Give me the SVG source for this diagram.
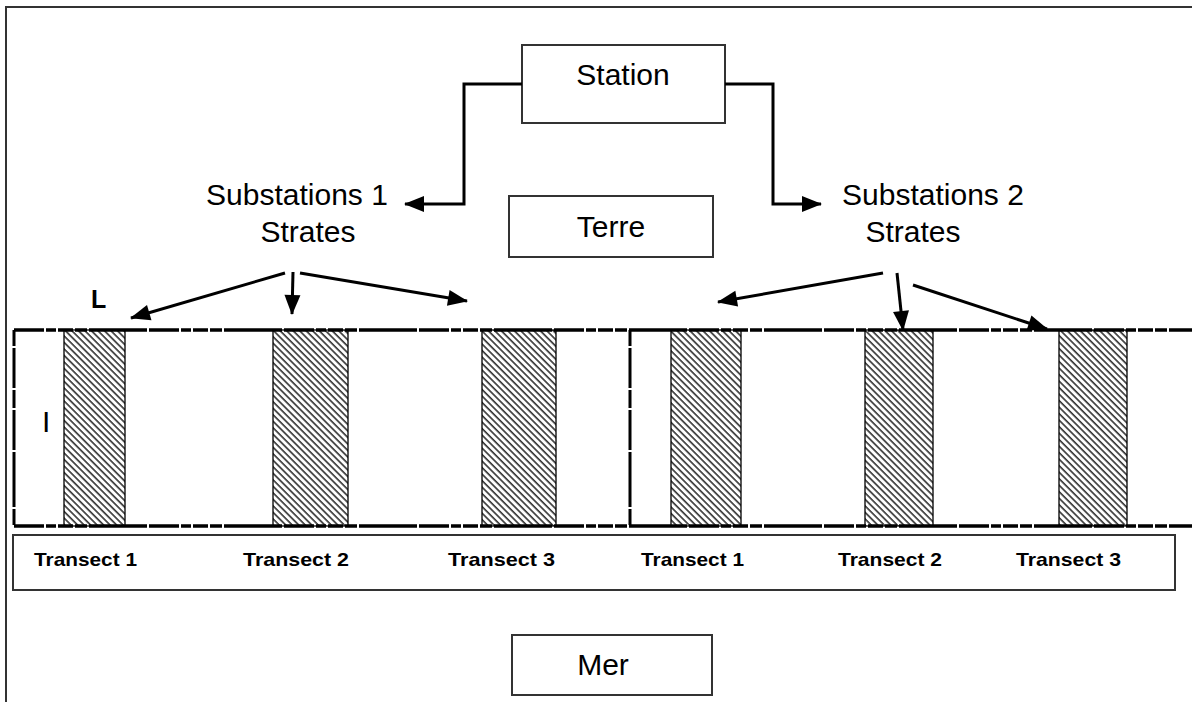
<svg xmlns="http://www.w3.org/2000/svg" width="1192" height="702" viewBox="0 0 1192 702">
<defs>
<pattern id="hatch" patternUnits="userSpaceOnUse" width="4.6" height="4.6" patternTransform="rotate(-45)">
<rect width="4.6" height="4.6" fill="#fff"/>
<line x1="1" y1="0" x2="1" y2="4.6" stroke="#000" stroke-width="1.3"/>
</pattern>
<marker id="ah" viewBox="0 0 20 16" markerUnits="userSpaceOnUse" markerWidth="20" markerHeight="16" refX="19" refY="8" orient="auto" overflow="visible">
<path d="M0,0 L20,8 L0,16 z" fill="#000"/>
</marker>
</defs>
<style>
.box{fill:#fff;stroke:#333;stroke-width:2}
.lbl{font-family:"Liberation Sans",Arial,sans-serif;font-size:30px;fill:#000;text-anchor:middle}
.tr{font-family:"Liberation Sans",Arial,sans-serif;font-size:19px;font-weight:bold;fill:#000}
.con{fill:none;stroke:#000;stroke-width:3}
.band{fill:none;stroke:#000;stroke-width:3.5;stroke-dasharray:30 2 10 2 15 2 12 2 58 2}
.bandv{fill:none;stroke:#000;stroke-width:3;stroke-dasharray:16 2 40 2 18 2 40 2 55 2}
.hat{fill:url(#hatch);stroke:#000;stroke-width:1.3}
</style>
<rect width="1192" height="702" fill="#fff"/>
<g id="frame">
<path d="M6,702 V7 H1192" fill="none" stroke="#333" stroke-width="2"/>
</g>
<g id="station">
<rect class="box" x="522" y="45" width="203" height="78"/>
<text class="lbl" x="623" y="85">Station</text>
</g>
<g id="terre">
<rect class="box" x="509" y="196" width="204" height="61"/>
<text class="lbl" x="611" y="237" font-size="28">Terre</text>
</g>
<g id="substations1">
<text class="lbl" x="297" y="205">Substations 1</text>
<text class="lbl" x="308" y="242">Strates</text>
</g>
<g id="substations2">
<text class="lbl" x="933" y="205">Substations 2</text>
<text class="lbl" x="913" y="242">Strates</text>
</g>
<g id="band">
<rect class="hat" x="64" y="330" width="61" height="196"/>
<rect class="hat" x="273" y="330" width="75" height="196"/>
<rect class="hat" x="482" y="330" width="74" height="196"/>
<rect class="hat" x="671" y="330" width="70" height="196"/>
<rect class="hat" x="865" y="330" width="68" height="196"/>
<rect class="hat" x="1059" y="330" width="68" height="196"/>
<path class="band" d="M14,330 H1192"/>
<path class="band" d="M14,526 H1192"/>
<path class="bandv" d="M14,330 V526"/>
<path class="bandv" d="M630,330 V526"/>
<text x="91" y="308" font-family="Liberation Sans,Arial,sans-serif" font-size="25" font-weight="bold" fill="#000">L</text>
<text x="42" y="432" font-family="Liberation Sans,Arial,sans-serif" font-size="30" fill="#000">I</text>
</g>
<g id="transects">
<rect class="box" x="13" y="535" width="1162" height="55"/>
<text class="tr" x="34" y="566" textLength="103" lengthAdjust="spacingAndGlyphs">Transect 1</text>
<text class="tr" x="243" y="566" textLength="106" lengthAdjust="spacingAndGlyphs">Transect 2</text>
<text class="tr" x="448" y="566" textLength="107" lengthAdjust="spacingAndGlyphs">Transect 3</text>
<text class="tr" x="641" y="566" textLength="103" lengthAdjust="spacingAndGlyphs">Transect 1</text>
<text class="tr" x="838" y="566" textLength="104" lengthAdjust="spacingAndGlyphs">Transect 2</text>
<text class="tr" x="1016" y="566" textLength="105" lengthAdjust="spacingAndGlyphs">Transect 3</text>
</g>
<g id="mer">
<rect class="box" x="512" y="635" width="200" height="60"/>
<text class="lbl" x="603" y="675" font-size="28">Mer</text>
</g>
<g id="connectors">
<path class="con" d="M522,84 H464 V204 H405" marker-end="url(#ah)"/>
<path class="con" d="M725,84 H773 V204 H821" marker-end="url(#ah)"/>
<path class="con" d="M285,273 L131,318" marker-end="url(#ah)"/>
<path class="con" d="M293,272 L292,314" marker-end="url(#ah)"/>
<path class="con" d="M300,273 L467,301" marker-end="url(#ah)"/>
<path class="con" d="M883,273 L718,302" marker-end="url(#ah)"/>
<path class="con" d="M897,273 L903,330" marker-end="url(#ah)"/>
<path class="con" stroke-width="2.3" d="M913,285 L1047,329" marker-end="url(#ah)"/>
</g>
</svg>
